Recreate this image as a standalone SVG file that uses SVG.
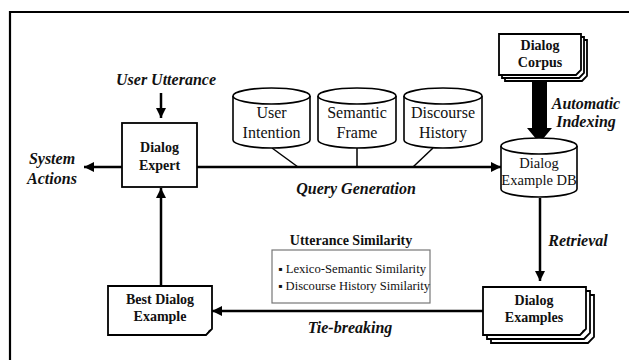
<svg xmlns="http://www.w3.org/2000/svg" width="629" height="360" viewBox="0 0 629 360">
<defs>
<style>
text{font-family:"Liberation Serif","Times New Roman",serif}
.t{fill:#111;text-anchor:middle}
.b{font-weight:bold;font-size:14px}
.bi{font-weight:bold;font-style:italic;font-size:16px}
.r{font-size:16px}
.s{font-size:12px;text-anchor:start}
.ln{stroke:#000;stroke-width:2.5;fill:none}
.thin{stroke:#000;stroke-width:1.5;fill:none}
.box{fill:#fff;stroke:#000;stroke-width:1.8}
.cyl{fill:#fff;stroke:#000;stroke-width:1.6}
</style>
<marker id="ah" viewBox="0 0 10 10" refX="10" refY="5" markerWidth="4" markerHeight="4" orient="auto" markerUnits="strokeWidth">
<path d="M0,0 L10,5 L0,10 z" fill="#000"/>
</marker>
</defs>
<rect width="629" height="360" fill="#fff"/>
<path d="M10,365 V12 H635" fill="none" stroke="#000" stroke-width="2.2"/>

<g id="connectors">
<line class="ln" x1="161" y1="93" x2="161" y2="118" marker-end="url(#ah)"/>
<line class="ln" x1="122" y1="167" x2="84" y2="167" marker-end="url(#ah)"/>
<line class="ln" x1="197" y1="167" x2="501" y2="167" marker-end="url(#ah)"/>
<line class="thin" x1="272" y1="148" x2="298" y2="167"/>
<line class="thin" x1="357" y1="148" x2="357" y2="167"/>
<line class="thin" x1="433" y1="148" x2="413" y2="167"/>
<path d="M532,82 H547 V128 H552 L539.5,143 L527,128 H532 Z" fill="#000"/>
<line class="ln" x1="540" y1="198" x2="540" y2="281" marker-end="url(#ah)"/>
<line class="ln" x1="483" y1="311" x2="212" y2="311" marker-end="url(#ah)"/>
<line class="ln" x1="161" y1="286" x2="161" y2="188" marker-end="url(#ah)"/>
</g>

<g id="label-user-utterance"><text class="t bi" x="166" y="85">User Utterance</text></g>
<g id="label-system-actions"><text class="t bi" x="52" y="164">System</text><text class="t bi" x="52" y="184">Actions</text></g>
<g id="label-query-generation"><text class="t bi" x="356" y="194">Query Generation</text></g>
<g id="label-automatic-indexing"><text class="t bi" x="586" y="109">Automatic</text><text class="t bi" x="586" y="127">Indexing</text></g>
<g id="label-retrieval"><text class="t bi" x="578" y="246">Retrieval</text></g>
<g id="label-tie-breaking"><text class="t bi" x="350" y="333">Tie-breaking</text></g>

<g id="dialog-expert">
<rect class="box" x="122" y="123" width="75" height="64"/>
<text class="t b" x="159.5" y="152">Dialog</text>
<text class="t b" x="159.5" y="170">Expert</text>
</g>

<g id="user-intention">
<path class="cyl" d="M233,96 V140 A38.5,8 0 0 0 310,140 V96"/>
<ellipse class="cyl" cx="271.5" cy="96" rx="38.5" ry="8"/>
<text class="t r" x="271.5" y="118">User</text>
<text class="t r" x="271.5" y="138">Intention</text>
</g>
<g id="semantic-frame">
<path class="cyl" d="M318,96 V140 A39,8 0 0 0 396,140 V96"/>
<ellipse class="cyl" cx="357" cy="96" rx="39" ry="8"/>
<text class="t r" x="357" y="118">Semantic</text>
<text class="t r" x="357" y="138">Frame</text>
</g>
<g id="discourse-history">
<path class="cyl" d="M404,96 V140 A39,8 0 0 0 482,140 V96"/>
<ellipse class="cyl" cx="443" cy="96" rx="39" ry="8"/>
<text class="t r" x="443" y="118">Discourse</text>
<text class="t r" x="443" y="138">History</text>
</g>

<g id="dialog-example-db">
<path class="cyl" d="M501,146 V189 A38,8 0 0 0 577,189 V146"/>
<ellipse class="cyl" cx="539" cy="146" rx="38" ry="8"/>
<text class="t" style="font-size:14.5px" x="539" y="168">Dialog</text>
<text class="t" style="font-size:14.5px" x="539" y="185">Example DB</text>
</g>

<g id="dialog-corpus">
<path class="box" d="M505,40 H587 V76 L582,81 H505 Z"/>
<path class="box" d="M502,37 H584 V73 L579,78 H502 Z"/>
<path class="box" d="M499,34 H581 V70 L576,75 H499 Z"/>
<path d="M581,70 L576,75 L579,71 Z" fill="#000"/>
<text class="t b" x="540" y="50">Dialog</text>
<text class="t b" x="540" y="67">Corpus</text>
</g>

<g id="dialog-examples">
<path class="box" d="M491,295 H594 V337 L588,343 H491 Z"/>
<path class="box" d="M487,291 H590 V333 L584,339 H487 Z"/>
<path class="box" d="M483,287 H586 V329 L580,335 H483 Z"/>
<path d="M586,329 L580,335 L583,330 Z" fill="#000"/>
<text class="t b" x="534" y="305">Dialog</text>
<text class="t b" x="534" y="322">Examples</text>
</g>

<g id="best-dialog-example">
<path class="box" d="M108,286 H212 V329 L206,335 H108 Z"/>
<path d="M212,329 L206,335 L209,330 Z" fill="#000"/>
<text class="t b" x="160" y="304">Best Dialog</text>
<text class="t b" x="160" y="321">Example</text>
</g>

<g id="utterance-similarity">
<text class="t b" x="351" y="245">Utterance Similarity</text>
<rect x="272" y="250" width="158" height="53" fill="#fff" stroke="#777" stroke-width="1.2"/>
<text class="t s" x="278" y="273" textLength="148" lengthAdjust="spacingAndGlyphs">▪ Lexico-Semantic Similarity</text>
<text class="t s" x="278" y="290" textLength="152" lengthAdjust="spacingAndGlyphs">▪ Discourse History Similarity</text>
</g>
</svg>
